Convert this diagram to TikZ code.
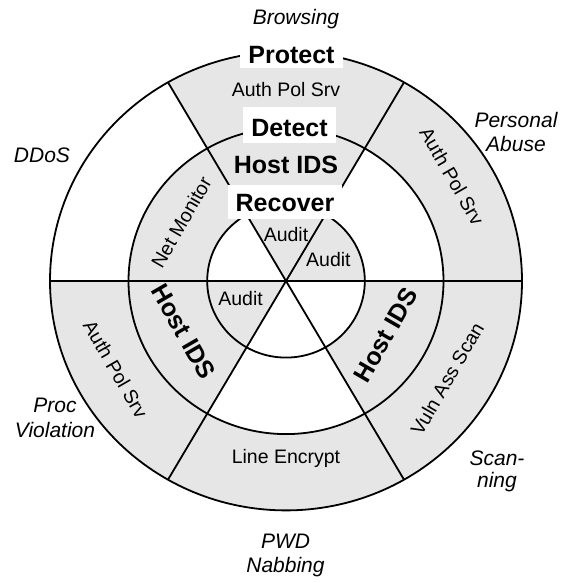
\documentclass[tikz,border=0pt]{standalone}
\usepackage{fontspec}
\setmainfont{Liberation Sans}
\definecolor{ringgray}{RGB}{230,230,230}
% annular sector between radii #3 and #4, angles #1 to #2
\newcommand\ringsector[4]{\fill[ringgray] (#1:#3) arc[start angle=#1,end angle=#2,radius=#3] -- (#2:#4) arc[start angle=#2,end angle=#1,radius=#4] -- cycle;}
% pie slice of radius #3 from angle #1 to #2
\newcommand\pieslice[3]{\fill[ringgray] (0,0) -- (#1:#3) arc[start angle=#1,end angle=#2,radius=#3] -- cycle;}
\begin{document}
\begin{tikzpicture}[x=1pt,y=1pt,
  ring/.style={line width=1.8pt},
  plain/.style={font=\fontsize{19.5}{22}\selectfont, inner sep=0pt},
  heavy/.style={font=\fontsize{25}{28}\selectfont\bfseries, inner sep=0pt},
  stage/.style={font=\fontsize{25}{28}\selectfont\bfseries, fill=white, inner xsep=8pt, inner ysep=0pt, anchor=base},
  threat/.style={font=\fontsize{21}{24}\selectfont\itshape, align=center, inner sep=0pt}]
\useasboundingbox (0,0) rectangle (569,583);

\begin{scope}[shift={(286,302)}, yscale=0.972]
  % shaded cells
  \ringsector{180}{480}{157.5}{236}
  \ringsector{60}{240}{78.8}{157.5}
  \ringsector{300}{360}{78.8}{157.5}
  \pieslice{0}{120}{78.8}
  \pieslice{180}{240}{78.8}
  % rings and spokes
  \draw[ring] (0,0) circle[radius=236];
  \draw[ring] (0,0) circle[radius=157.5];
  \draw[ring] (0,0) circle[radius=78.8];
  \coordinate (e0) at (0:236);   \coordinate (e180) at (180:236);
  \coordinate (e60) at (60:236); \coordinate (e240) at (240:236);
  \coordinate (e120) at (120:236); \coordinate (e300) at (300:236);
  \draw[ring] (e180) -- (e0);
  \draw[ring] (e240) -- (e60);
  \draw[ring] (e120) -- (e300);

  % outer ring
  \node[plain] (apsTop) at (90:197) {Auth Pol Srv};
  \node[plain, rotate=-60] (apsRight) at (33:198) {Auth Pol Srv};
  \node[plain, rotate=-60] (apsLeft) at (208:193) {Auth Pol Srv};
  \node[plain, rotate=60] (vuln) at (-32:190) {Vuln Ass Scan};
  \node[plain] (lineEnc) at (270:183) {Line Encrypt};
  % middle ring
  \node[heavy] (hidsTop) at (90:119) {Host IDS};
  \node[plain, rotate=60] (netMon) at (150:121) {Net Monitor};
  \node[heavy, rotate=-60] (hidsLeft) at (207:115) {Host IDS};
  \node[heavy, rotate=60] (hidsRight) at (-29:114) {Host IDS};
  % inner disc
  \node[plain] (auditTop) at (90:48) {Audit};
  \node[plain] (auditRight) at (28:48) {Audit};
  \node[plain] (auditLeft) at (202:49) {Audit};
\end{scope}

% stage titles on the circles
\node[stage, text height=20pt, text depth=5pt] (protect) at (291.5,519.7) {Protect};
\node[stage, text height=29.4pt, text depth=6.6pt] (detect) at (289.5,446.3) {Detect};
\node[stage, text height=26.7pt, text depth=7.3pt] (recover) at (285,371.3) {Recover};

% threats around the wheel
\node[threat, anchor=base] (browsing) at (296,558) {Browsing};
\node[threat, anchor=base] (ddos) at (42,420) {DDoS};
\node[threat] (abuse) at (516,450.7) {Personal\\Abuse};
\node[threat, font=\fontsize{21}{25}\selectfont\itshape] (proc) at (55,165) {Proc\\Violation};
\node[threat, font=\fontsize{21}{22}\selectfont\itshape] (scan) at (497,112) {Scan-\\ning};
\node[threat, font=\fontsize{21}{24.5}\selectfont\itshape] (pwd) at (285.5,27.7) {PWD\\Nabbing};
\end{tikzpicture}
\end{document}
